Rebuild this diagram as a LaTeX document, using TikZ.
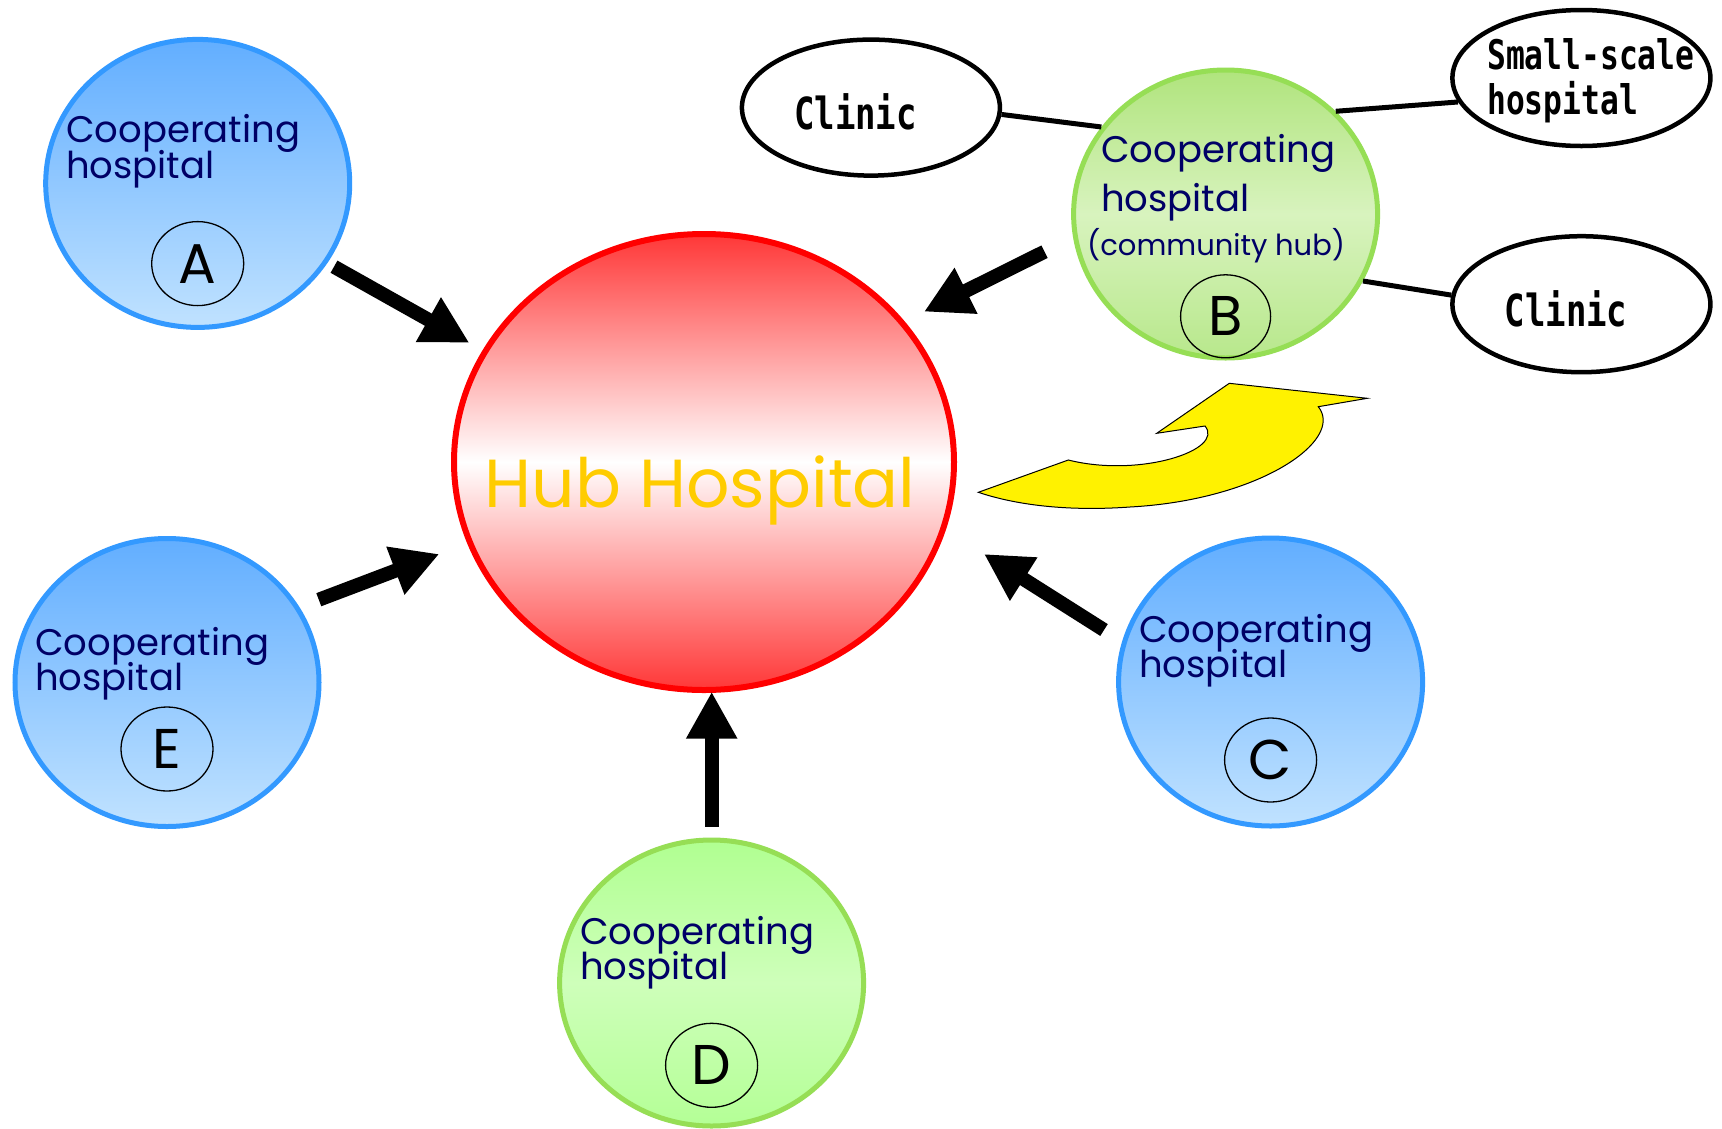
\documentclass[tikz,border=0pt]{standalone}
\usepackage{fontspec}
\setmainfont{Poppins}
\newfontfamily\gothfont{DejaVu Sans Mono}
\usetikzlibrary{shapes.geometric,arrows.meta}
\definecolor{navy}{HTML}{000066}
\definecolor{bluebd}{RGB}{51,153,255}
\definecolor{bluetop}{RGB}{98,174,255}
\definecolor{bluebot}{RGB}{192,226,255}
\definecolor{greenbd}{RGB}{150,222,85}
\definecolor{gbtop}{RGB}{176,228,125}
\definecolor{gbmid}{RGB}{216,243,190}
\definecolor{gbbot}{RGB}{184,232,140}
\definecolor{gdtop}{RGB}{176,255,145}
\definecolor{gdmid}{RGB}{206,255,186}
\definecolor{gdbot}{RGB}{180,255,150}
\definecolor{hubred}{RGB}{255,55,55}
\definecolor{gold}{RGB}{255,204,0}
\tikzset{
  hosp/.style={ellipse, inner sep=0pt, line width=5pt, minimum width=304pt, minimum height=288pt},
  bluehosp/.style={hosp, draw=bluebd, top color=bluetop, bottom color=bluebot},
  greenbhosp/.style={hosp, draw=greenbd, top color=gbtop, bottom color=gbbot, middle color=gbmid},
  greendhosp/.style={hosp, draw=greenbd, top color=gdtop, bottom color=gdbot, middle color=gdmid},
  lbl/.style={anchor=base west, inner sep=0pt, text=navy, font=\fontsize{37}{37}\selectfont},
  letter/.style={ellipse, draw, line width=1.3pt, inner sep=0pt, minimum width=92pt, minimum height=84pt, font=\fontsize{56}{56}\selectfont},
  small/.style={ellipse, draw, line width=4.5pt, inner sep=0pt, minimum width=258pt, minimum height=136pt, fill=white},
  goth/.style={inner sep=0pt, font=\gothfont\bfseries\fontsize{34}{34}\selectfont},
  link/.style={line width=5pt},
  bigarrow/.style={line width=14pt, -{Triangle[length=47pt, width=48pt]}},
}
\begin{document}
\begin{tikzpicture}[x=1pt,y=-1pt]
\useasboundingbox (0,0) rectangle (1722,1128);
\fill[white] (0,0) rectangle (1722,1128);

% hub
\node[ellipse, draw=red, line width=6pt, minimum width=500pt, minimum height=456pt,
      top color=hubred, bottom color=hubred, middle color=white, inner sep=0pt] (hub) at (704,462) {};
\node[text=gold, inner sep=0pt, anchor=base, font=\fontsize{68}{68}\selectfont] (hubtxt) at (700,507) {Hub Hospital};

% cooperating hospitals
\node[bluehosp] (A) at (197.7,183.4) {};
\node[lbl] (Acoop) at (66,142.8) {Cooperating};
\node[lbl] (Ahosp) at (66,178) {hospital};
\node[letter] (Alet) at (197.7,263.6) {A};

\node[greenbhosp] (B) at (1225.6,214) {};
\node[lbl] (Bcoop) at (1101,162.5) {Cooperating};
\node[lbl] (Bhosp) at (1101,211) {hospital};
\node[lbl, font=\fontsize{29}{29}\selectfont] (Bhub) at (1087,255.5) {(community hub)};
\node[letter, minimum width=90pt, minimum height=83pt] (Blet) at (1225.6,316.3) {B};

\node[bluehosp] (E) at (167,682.5) {};
\node[lbl] (Ecoop) at (35,655.6) {Cooperating};
\node[lbl] (Ehosp) at (35,690.8) {hospital};
\node[letter] (Elet) at (167,749) {E};

\node[bluehosp] (C) at (1270.6,682) {};
\node[lbl] (Ccoop) at (1139,642.5) {Cooperating};
\node[lbl] (Chosp) at (1139,677.6) {hospital};
\node[letter] (Clet) at (1270.6,760) {C};

\node[greendhosp, minimum height=286pt] (D) at (711.6,983) {};
\node[lbl] (Dcoop) at (580,944.5) {Cooperating};
\node[lbl] (Dhosp) at (580,979.6) {hospital};
\node[letter] (Dlet) at (711.6,1065.3) {D};

% satellite facilities
\node[small] (clinic1) at (870.9,107.6) {};
\node[goth, anchor=base] (clinic1txt) at (855.5,129.6) {\scalebox{1}[1.3]{Clinic}};
\node[small] (ssh) at (1581.4,78) {};
\node[goth, anchor=base west] (ssh1) at (1487,69.2) {\scalebox{0.92}[1.2]{Small-scale}};
\node[goth, anchor=base west] (ssh2) at (1487,114) {\scalebox{0.92}[1.2]{hospital}};
\node[small] (clinic2) at (1581.4,304.2) {};
\node[goth, anchor=base] (clinic2txt) at (1566,326.2) {\scalebox{1}[1.3]{Clinic}};

\draw[link] (clinic1.-3) -- (B.145.5);
\draw[link] (B.43.2) -- (ssh.191.3);
\draw[link] (B.-26.9) -- (clinic2.176.6);

% arrows into the hub
\coordinate (aA1) at (334,266.7);  \coordinate (aA2) at (469.3,342.7);
\coordinate (aB1) at (1044.5,251.7); \coordinate (aB2) at (924,311.7);
\coordinate (aE1) at (318.8,599.7); \coordinate (aE2) at (439.3,554);
\coordinate (aC1) at (1104,630);   \coordinate (aC2) at (984,554);
\coordinate (aD1) at (711.7,826.7); \coordinate (aD2) at (711.7,691.7);
\draw[bigarrow] (aA1) -- (aA2);
\draw[bigarrow] (aB1) -- (aB2);
\draw[bigarrow] (aE1) -- (aE2);
\draw[bigarrow] (aC1) -- (aC2);
\draw[bigarrow] (aD1) -- (aD2);

% yellow curved arrow
\draw[fill=yellow, line width=1pt, line join=miter]
  (978.3,492.3) -- (1068.3,460)
  .. controls (1140,478) and (1225,450) .. (1205,426)
  -- (1156.7,433.3) -- (1229.3,383.3) -- (1367.3,398.3) -- (1318.3,406.7)
  .. controls (1345,440) and (1260,500) .. (1130,507)
  .. controls (1060,512) and (1010,503) .. cycle;
\end{tikzpicture}
\end{document}
